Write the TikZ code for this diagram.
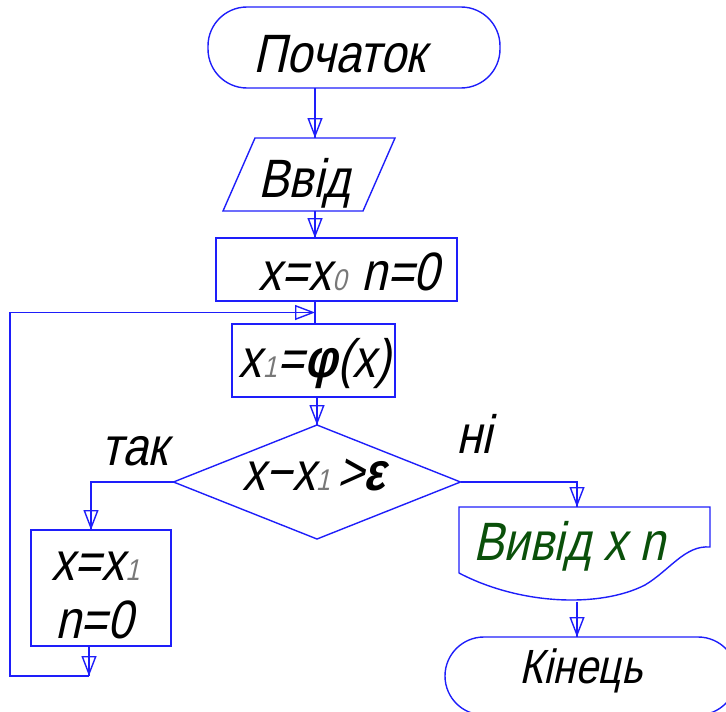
\documentclass[tikz,border=0pt]{standalone}
\usepackage{fontspec}
\usetikzlibrary{arrows.meta,shapes.geometric,calc}
\newfontfamily\gost{Liberation Sans}[FakeSlant=0.22,FakeStretch=0.85]
\definecolor{linkblue}{RGB}{30,30,250}
\definecolor{outgreen}{RGB}{10,80,10}
\definecolor{subgray}{RGB}{120,120,120}
\newcommand{\lowidx}[1]{\kern1pt{\fontsize{30}{30}\selectfont\color{subgray}#1}\kern1pt}

\begin{document}
\begin{tikzpicture}[x=1pt,y=-1pt,
  every node/.style={inner sep=0pt,outer sep=0pt},
  outline/.style={draw=linkblue,line width=1.4pt},
  blk/.style={outline,rectangle},
  terminal/.style={blk,rounded corners=39pt},
  flow/.style={draw=linkblue,line width=1.4pt,
    -{Triangle[open,length=20pt,width=15pt,line width=1.4pt]},
    postaction={draw=linkblue,line width=1.4pt,-}},
  txt/.style={anchor=base,font=\gost\fontsize{54}{54}\selectfont},
  endtxt/.style={anchor=base,font=\gost\fontsize{48}{48}\selectfont}]

\useasboundingbox (0,0) rectangle (726,712);

% blocks
\node[terminal,minimum width=292pt,minimum height=81pt] (term) at (354,47.5) {};
\node[minimum width=172pt,minimum height=73pt] (vin) at (309,174.5) {};
\draw[outline] ($(vin.north west)+(32,0)$) -- (vin.north east)
  -- ($(vin.south east)+(-32,0)$) -- (vin.south west) -- cycle;
\node[blk,minimum width=241pt,minimum height=63pt] (box1) at (336.5,269.5) {};
\node[blk,minimum width=163pt,minimum height=73pt] (box2) at (313.5,360.5) {};
\node[outline,diamond,aspect=2.5,minimum width=287pt,minimum height=114pt] (dec) at (317,482) {};
\node[blk,minimum width=140pt,minimum height=116pt] (box3) at (101,588) {};
\node[minimum width=251pt,minimum height=66pt] (vout) at (584.5,540) {};
\draw[outline] (vout.south west) -- (vout.north west) -- (vout.north east) -- (710,547)
  .. controls (685,545) and (670,570) .. (645,585)
  .. controls (600,608) and (520,605) .. (vout.south west);
\node[terminal,minimum width=292pt,minimum height=78pt] (endt) at (591,676) {};

% texts
\node[txt] (tstart) at (340,72) {Початок};
\node[txt] (tin) at (304,197) {Ввід};
\node[txt] (tinit) at (349,290) {x=x\lowidx{0}\hspace{14pt}n=0};
\node[txt] (titer) at (315,377) {x\lowidx{1}=\textbf{φ}(x)};
\node[txt] (tcond) at (314,490) {x−x\lowidx{1}\hspace{6pt}>\textbf{ε}};
\node[txt] (tyes) at (135,465) {так};
\node[txt] (tno) at (474,453) {ні};
\node[txt] (tupd1) at (96,580) {x=x\lowidx{1}};
\node[txt] (tupd2) at (94,638) {n=0};
\node[txt,text=outgreen] (tout) at (569,560) {Вивід x n};
\node[endtxt] (tend) at (581,683) {Кінець};

% connectors
\coordinate (axis) at (315,0);
\coordinate (laxis) at (91,0);
\coordinate (raxis) at (577,0);
\coordinate (wavelow) at (577,602);
\coordinate (cb) at (89,676);
\coordinate (cl) at (10,676);
\coordinate (join) at ($(box1.south -| axis)!0.5!(box2.north -| axis)$);

\draw[flow] (term.south -| axis) -- (vin.north -| axis);
\draw[flow] (vin.south -| axis) -- (box1.north -| axis);
\draw[outline] (box1.south -| axis) -- (box2.north -| axis);
\draw[flow] (box2.south -| dec.north) -- (dec.north);
\draw[flow] (dec.west) -| (box3.north -| laxis);
\draw[flow] (dec.east) -| (vout.north -| raxis);
\draw[flow] (wavelow) -- (endt.north -| raxis);
\draw[flow] (box3.south -| cb) -- (cb);
\draw[flow] (cb) -- (cl) -- (cl |- join) -- (join);
\end{tikzpicture}
\end{document}
